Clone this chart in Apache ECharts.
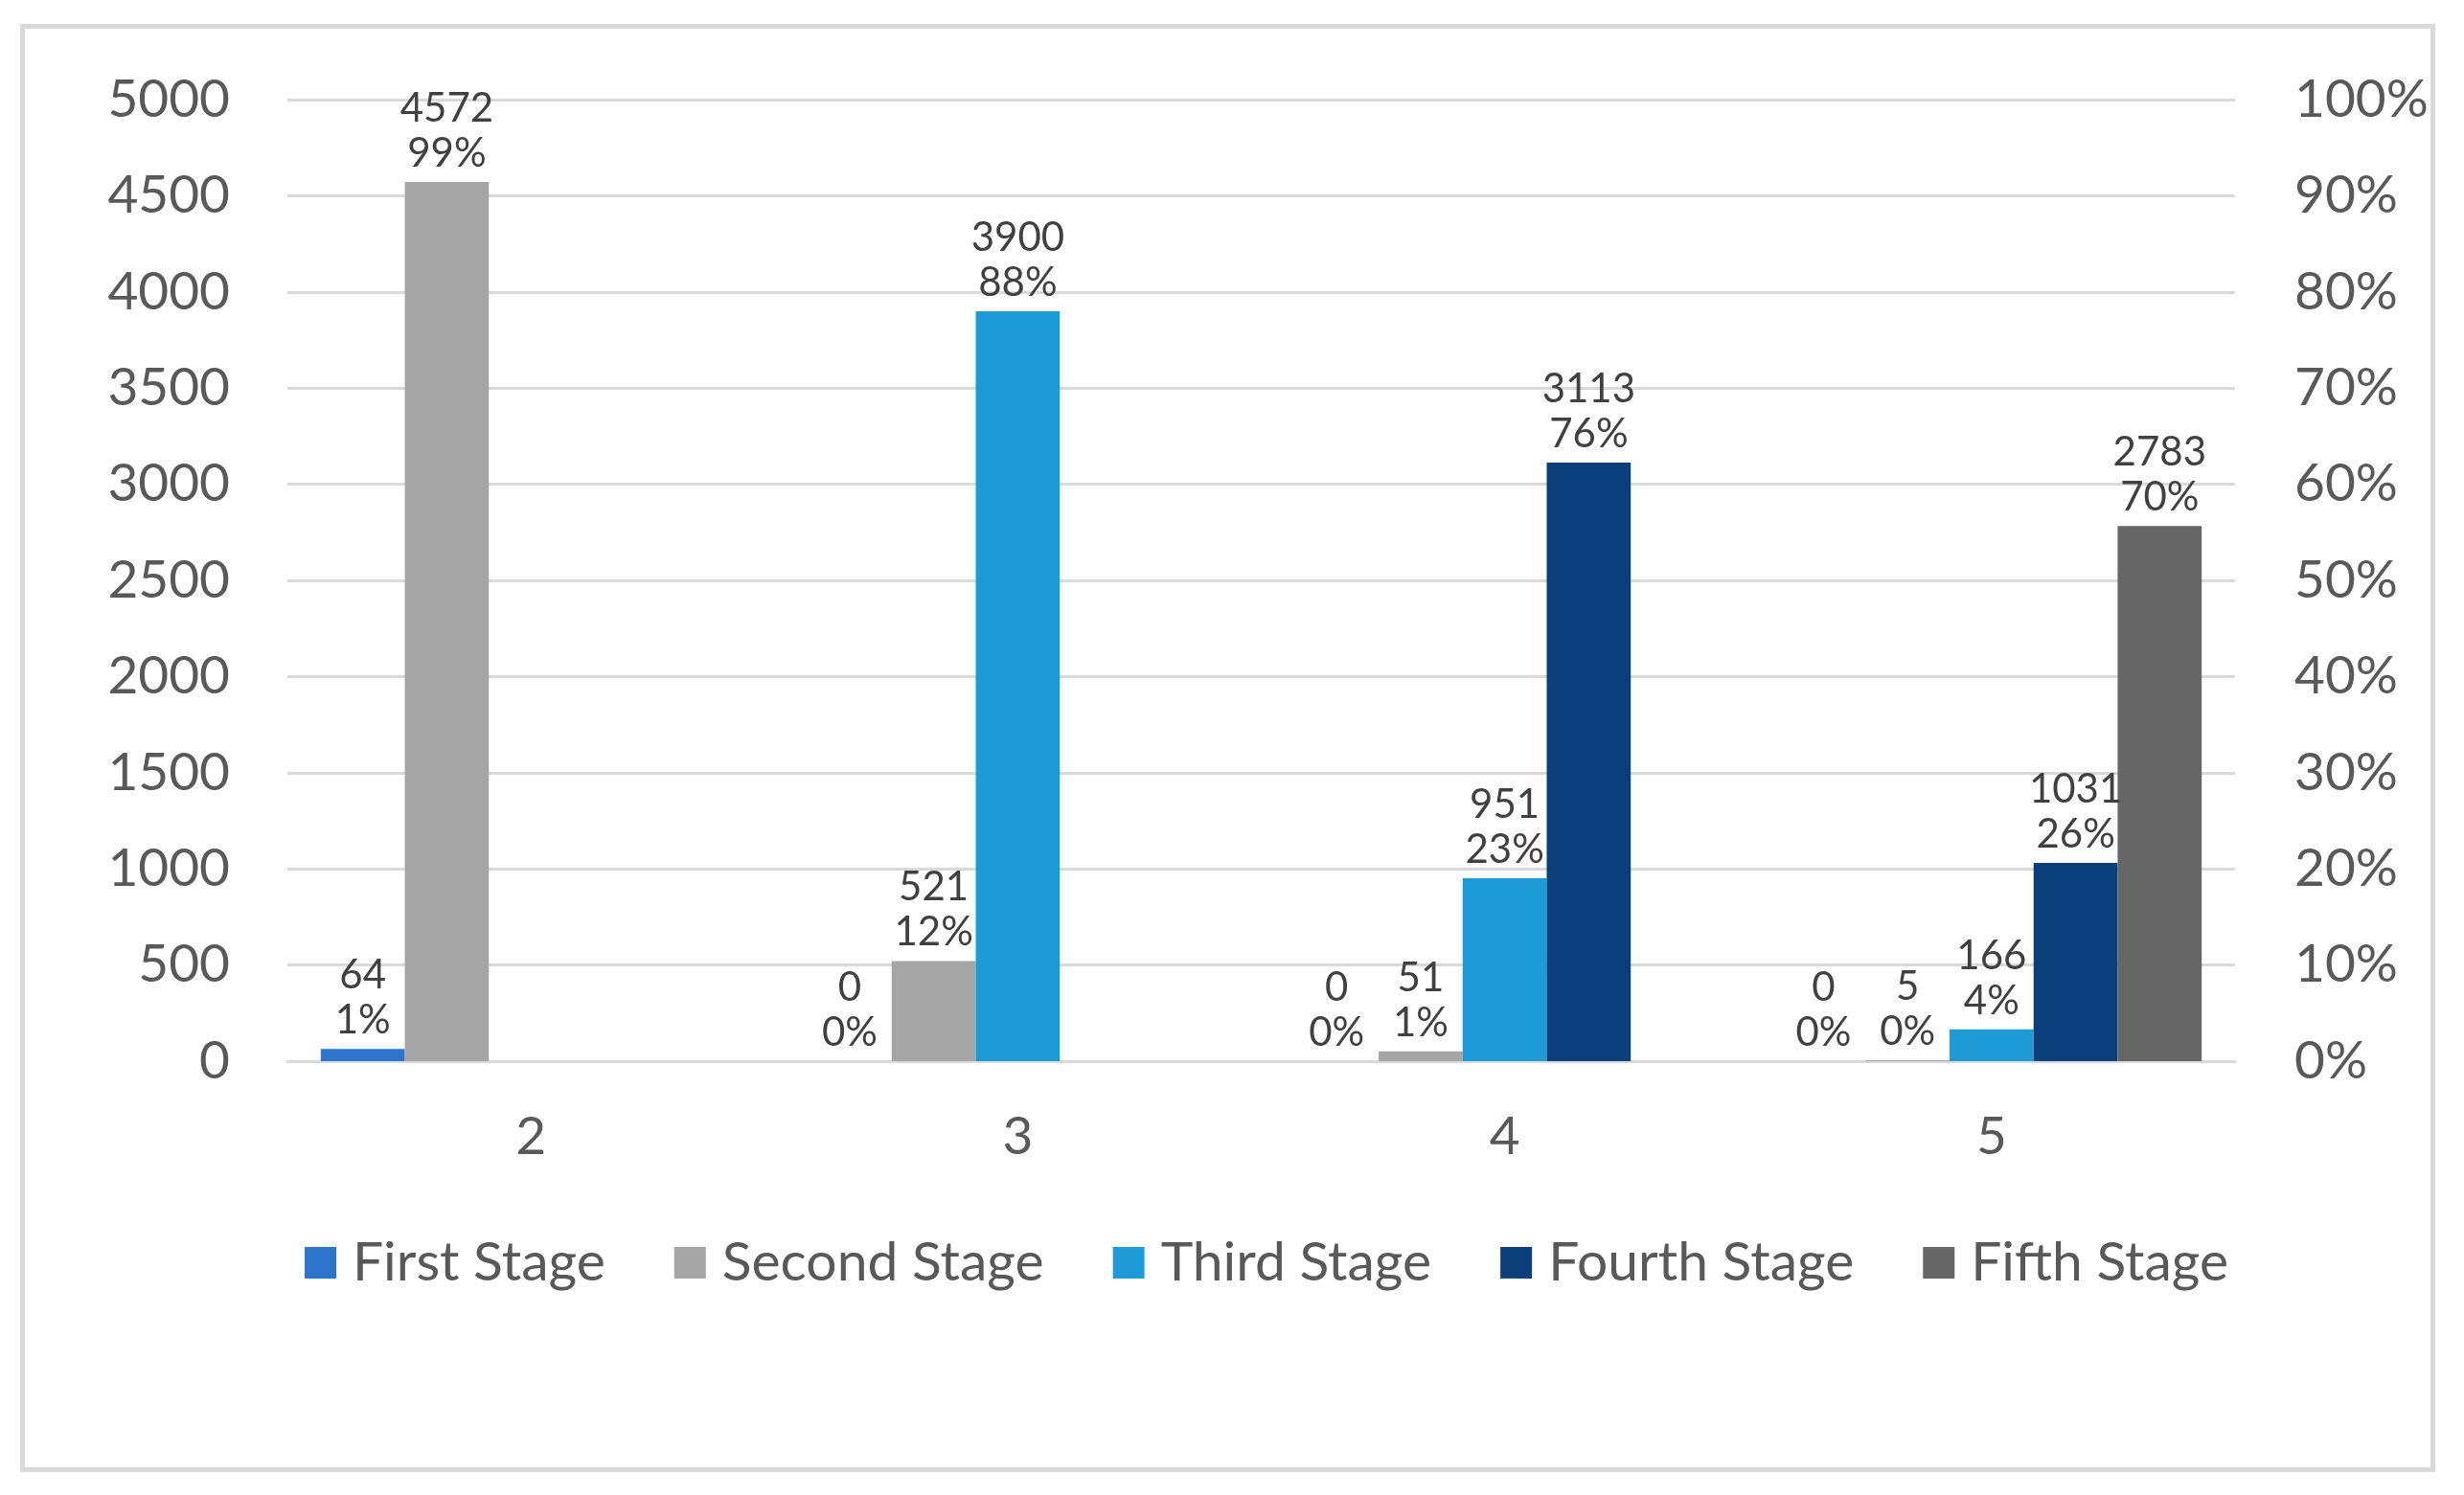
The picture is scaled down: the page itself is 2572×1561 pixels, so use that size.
<!DOCTYPE html>
<html>
<head>
<meta charset="utf-8">
<script src="https://cdn.jsdelivr.net/npm/echarts@6/dist/echarts.min.js"></script>
<style>
html,body{margin:0;padding:0;background:#fff;}
#chart{width:2572px;height:1561px;}
</style>
</head>
<body>
<div id="chart"></div>
<script>
var categories = ['2', '3', '4', '5'];
var stageNames = ['First Stage', 'Second Stage', 'Third Stage', 'Fourth Stage', 'Fifth Stage'];
var firstStage = [64, 0, 0, 0];
var secondStage = [4572, 521, 51, 5];
var thirdStage = [null, 3900, 951, 166];
var fourthStage = [null, null, 3113, 1031];
var fifthStage = [null, null, null, 2783];
var firstPct = ['1%', '0%', '0%', '0%'];
var secondPct = ['99%', '12%', '1%', '0%'];
var thirdPct = [null, '88%', '23%', '4%'];
var fourthPct = [null, null, '76%', '26%'];
var fifthPct = [null, null, null, '70%'];
var leftTicks = {min: 0, max: 5000, interval: 500};
var rightTicks = {min: 0, max: 100, interval: 10};

var colors = ['#2E74CC', '#A5A5A5', '#1E9BD7', '#0A3F7C', '#666666'];
var values = [firstStage, secondStage, thirdStage, fourthStage, fifthStage];
var pcts = [firstPct, secondPct, thirdPct, fourthPct, fifthPct];
var FONT = 'Lato, "Noto Sans", sans-serif';

var series = stageNames.map(function (name, i) {
  return {
    name: name,
    type: 'bar',
    data: values[i],
    barGap: '0%',
    barCategoryGap: '13.7%',
    itemStyle: {color: colors[i]},
    label: {
      show: true,
      position: 'top',
      distance: 6,
      fontFamily: FONT,
      fontSize: 42,
      lineHeight: 47,
      color: '#404040',
      formatter: function (p) {
        return p.value + '\n' + pcts[i][p.dataIndex];
      }
    }
  };
});

var chart = echarts.init(document.getElementById('chart'), null, {renderer: 'canvas'});
chart.setOption({
  backgroundColor: '#ffffff',
  animation: false,
  graphic: [{
    type: 'rect',
    shape: {x: 23.5, y: 27.5, width: 2516, height: 1507},
    style: {fill: 'none', stroke: '#d9d9d9', lineWidth: 5},
    silent: true
  }],
  grid: {left: 300, right: 239, top: 104, bottom: 453, containLabel: false},
  legend: {
    data: stageNames,
    left: 313,
    top: 1285,
    icon: 'rect',
    itemWidth: 33,
    itemHeight: 33,
    itemGap: 72,
    textStyle: {fontFamily: FONT, fontSize: 57, color: '#595959', padding: [0, 0, 0, 12]}
  },
  xAxis: {
    type: 'category',
    data: categories,
    axisTick: {show: false},
    axisLine: {lineStyle: {color: '#d9d9d9', width: 3}},
    axisLabel: {fontFamily: FONT, fontSize: 55, color: '#595959', margin: 52}
  },
  yAxis: [{
    type: 'value',
    min: leftTicks.min,
    max: leftTicks.max,
    interval: leftTicks.interval,
    axisLine: {show: false},
    axisTick: {show: false},
    splitLine: {lineStyle: {color: '#d9d9d9', width: 3}},
    axisLabel: {fontFamily: FONT, fontSize: 55, color: '#595959', margin: 60,
      formatter: function (v) { return String(v); }}
  }, {
    type: 'value',
    position: 'right',
    min: rightTicks.min,
    max: rightTicks.max,
    interval: rightTicks.interval,
    axisLine: {show: false},
    axisTick: {show: false},
    splitLine: {show: false},
    axisLabel: {fontFamily: FONT, fontSize: 55, color: '#595959', margin: 62, formatter: '{value}%'}
  }],
  series: series
});
</script>
</body>
</html>
